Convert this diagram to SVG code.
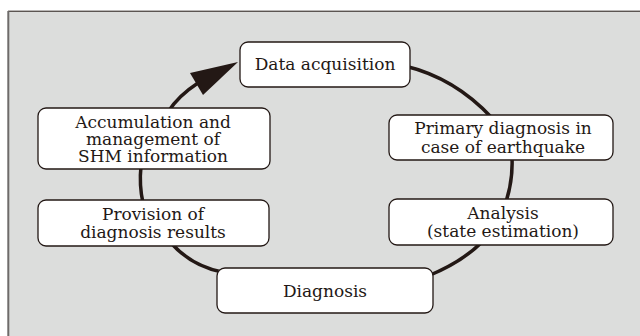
<svg xmlns="http://www.w3.org/2000/svg" width="640" height="336" viewBox="0 0 640 336">
<style>
.box{fill:#ffffff;stroke:#231815;stroke-width:1.3}
.lbl{font-family:"DejaVu Serif","Liberation Serif",serif;font-size:17px;fill:#231815;text-anchor:middle}
.con{fill:none;stroke:#231815;stroke-width:3.5;stroke-linecap:butt}
</style>
<rect x="0" y="0" width="640" height="336" fill="#ffffff"/>
<rect x="8" y="11" width="632" height="330" fill="#dcdddc"/>
<line x1="8" y1="11.2" x2="640" y2="11.2" stroke="#231815" stroke-width="1"/>
<line x1="8.3" y1="11" x2="8.3" y2="336" stroke="#6e6b6a" stroke-width="2"/>
<g id="connectors">
<path class="con" d="M405 66 Q455 78 492 118"/>
<path class="con" d="M512 158 Q513 180 506 202"/>
<path class="con" d="M482 242 Q462 262 428 276"/>
<path class="con" d="M172 244 Q192 266 222 272"/>
<path class="con" d="M143 203 Q139 185 141 166"/>
<path class="con" d="M168 112 Q178 96 198 83"/>
<polygon points="238,62 190,73 203,95" fill="#231815"/>
</g>
<g id="data-acquisition">
<rect class="box" x="240" y="42" width="170" height="45" rx="8"/>
<text class="lbl" x="325" y="69.5">Data acquisition</text>
</g>
<g id="primary-diagnosis">
<rect class="box" x="389" y="115" width="224" height="45" rx="8"/>
<text class="lbl" x="503" y="134">Primary diagnosis in</text>
<text class="lbl" x="503" y="152.5">case of earthquake</text>
</g>
<g id="analysis">
<rect class="box" x="389" y="199" width="224" height="46" rx="8"/>
<text class="lbl" x="503" y="218.5">Analysis</text>
<text class="lbl" x="503" y="237">(state estimation)</text>
</g>
<g id="diagnosis">
<rect class="box" x="217" y="268" width="216" height="45" rx="8"/>
<text class="lbl" x="325" y="296.5">Diagnosis</text>
</g>
<g id="provision">
<rect class="box" x="38" y="200" width="231" height="46" rx="8"/>
<text class="lbl" x="153" y="219.5">Provision of</text>
<text class="lbl" x="153" y="238">diagnosis results</text>
</g>
<g id="accumulation">
<rect class="box" x="38" y="108" width="232" height="61" rx="8"/>
<text class="lbl" x="153" y="128">Accumulation and</text>
<text class="lbl" x="153" y="145">management of</text>
<text class="lbl" x="153" y="162">SHM information</text>
</g>
</svg>
